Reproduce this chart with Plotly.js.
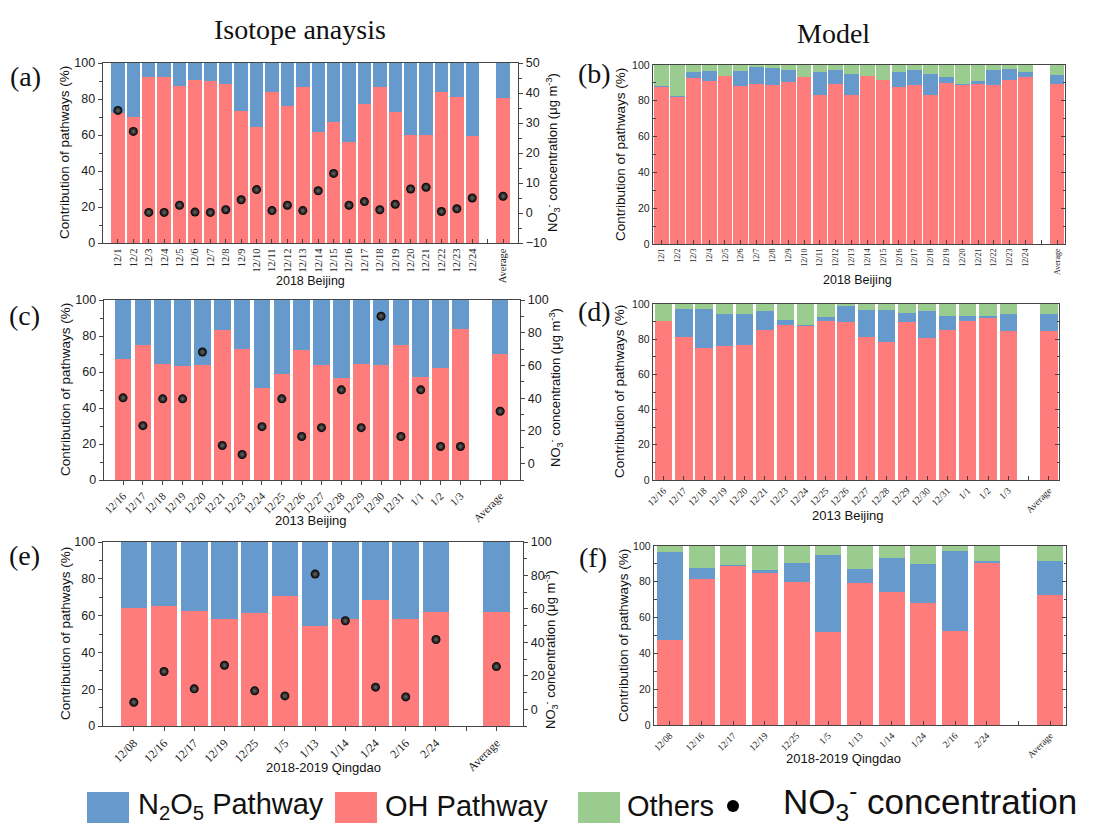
<!DOCTYPE html>
<html><head><meta charset="utf-8">
<script src="https://cdn.plot.ly/plotly-3.0.1.min.js"></script>
<style>html,body{margin:0;padding:0;background:#fff}#chart{width:1094px;height:825px}</style>
</head><body><div id="chart"></div>
<script>
// ---------- (a) Isotope analysis, 2018 Beijing ----------
const labelsA = ['12/1','12/2','12/3','12/4','12/5','12/6','12/7','12/8','12/9','12/10','12/11','12/12','12/13','12/14','12/15','12/16','12/17','12/18','12/19','12/20','12/21','12/22','12/23','12/24',' ','Average'];
const ohA   = [72,70,92.5,92,87,90.4,90.2,88.3,73.2,64.2,84,76.2,86.5,61.8,67.5,56.2,77,86.5,72.7,59.8,59.8,84,81.2,59.6,null,80.4];
const n2o5A = [28,30,7.5,8,13,9.6,9.8,11.7,26.8,35.8,16,23.8,13.5,38.2,32.5,43.8,23,13.5,27.3,40.2,40.2,16,18.8,40.4,null,19.6];
const no3A  = [34.2,27.2,0.2,0.2,2.6,0.3,0.2,1.1,4.4,7.8,0.8,2.6,0.8,7.4,13.2,2.6,3.8,1.1,2.9,8,8.6,0.5,1.4,5,null,5.6];

// ---------- (b) Model, 2018 Beijing ----------
const labelsB = labelsA;
const ohB     = [87.9,82.0,93.0,91.0,93.7,88.3,89.4,88.8,90.5,93.1,83.3,89.4,83.3,94.0,91.4,87.9,88.8,83.3,90.1,89.0,89.6,88.7,91.8,93.5,null,89.4];
const n2o5B   = [0.4,0.7,3.3,5.7,0.3,8.4,9.3,9.5,6.7,0.2,13.0,7.8,11.7,0.0,0.2,8.0,8.2,11.9,3.2,0.6,1.4,8.7,6.2,2.8,null,5.2];
const othersB = [11.7,17.3,3.7,3.3,6.0,3.3,1.3,1.7,2.8,6.7,3.7,2.8,5.0,6.0,8.4,4.1,3.0,4.8,6.7,10.4,9.0,2.6,2.0,3.7,null,5.4];

// ---------- (c) Isotope analysis, 2013 Beijing ----------
const labelsC = ['12/16','12/17','12/18','12/19','12/20','12/21','12/23','12/24','12/25','12/26','12/27','12/28','12/29','12/30','12/31','1/1','1/2','1/3',' ','Average'];
const ohC   = [67.2,75,64.3,63.3,63.7,83.1,72.8,51.3,58.9,72.2,63.7,56.4,64.6,63.9,75,57.5,62.5,83.9,null,69.8];
const n2o5C = [32.8,25,35.7,36.7,36.3,16.9,27.2,48.7,41.1,27.8,36.3,43.6,35.4,36.1,25,42.5,37.5,16.1,null,30.2];
const no3C  = [40.2,23.2,39.6,39.6,68.2,11.1,5.6,22.6,39.6,16.6,22,45.1,22,90.1,16.6,45.1,10.5,10.5,null,32];

// ---------- (d) Model, 2013 Beijing ----------
const labelsD = labelsC;
const ohD     = [90.5,81.2,75.0,75.9,76.5,85.4,87.9,87.3,90.5,89.6,81.0,78.2,89.6,80.6,85.4,90.5,92.0,84.4,null,84.4];
const n2o5D   = [0.0,16.0,22.2,18.6,17.8,10.4,2.8,0.9,1.9,9.1,15.8,18.6,5.3,15.2,8.0,2.9,1.4,9.9,null,9.9];
const othersD = [9.5,2.8,2.8,5.5,5.7,4.2,9.3,11.8,7.6,1.3,3.2,3.2,5.1,4.2,6.6,6.6,6.6,5.7,null,5.7];

// ---------- (e) Isotope analysis, 2018-2019 Qingdao ----------
const labelsE = ['12/08','12/16','12/17','12/19','12/25','1/5','1/13','1/14','1/24','2/16','2/24',' ','Average'];
const ohE   = [64.4,65,62.6,57.9,61.5,70.8,54.5,58.3,68.6,57.9,61.8,null,62];
const n2o5E = [35.6,35,37.4,42.1,38.5,29.2,45.5,41.7,31.4,42.1,38.2,null,38];
const no3E  = [4.2,22.6,12.2,26.3,11,8,80.8,52.9,13.2,7.4,41.7,null,25.5];

// ---------- (f) Model, 2018-2019 Qingdao ----------
const labelsF = labelsE;
const ohF     = [47.4,81.8,88.7,84.9,79.9,52.0,79.4,74.3,68.4,52.6,90.7,null,72.9];
const n2o5F   = [49.3,5.9,0.9,1.5,10.6,43.2,8.0,19.2,21.4,44.4,0.9,null,18.5];
const othersF = [3.3,12.3,10.4,13.6,9.5,4.8,12.6,6.5,10.2,3.0,8.4,null,8.6];

// ---------- styling ----------
const W = 1094, H = 825;
const px = x => x / W, py = y => 1 - y / H;
const BLUE = '#6699CC', RED = '#FF7C7C', GREEN = '#9BCC8F';
const AX = '#444';
const SANS = 'Liberation Sans, Arial, sans-serif';
const SERIF = 'Liberation Serif, Times New Roman, serif';

const traces = [];
function idx(labels){ return labels.map((_, i) => i); }
function bars(xa, ya, labels, oh, n2o5, others, w){
  const x = idx(labels);
  traces.push({type:'bar', x, y:oh, xaxis:xa, yaxis:ya, width:w, marker:{color:RED, line:{width:0}}, name:'OH Pathway', showlegend:false, hoverinfo:'y'});
  traces.push({type:'bar', x, y:n2o5, xaxis:xa, yaxis:ya, width:w, marker:{color:BLUE, line:{width:0}}, name:'N2O5 Pathway', showlegend:false, hoverinfo:'y'});
  if (others) traces.push({type:'bar', x, y:others, xaxis:xa, yaxis:ya, width:w, marker:{color:GREEN, line:{width:0}}, name:'Others', showlegend:false, hoverinfo:'y'});
}
function dots(xa, ya, labels, vals){
  traces.push({type:'scatter', mode:'markers', x:idx(labels), y:vals, xaxis:xa, yaxis:ya,
    marker:{size:9, color:'#000', gradient:{type:'radial', color:'#6a6a6a'}, line:{width:0}},
    name:'NO3- concentration', showlegend:false, hoverinfo:'y', cliponaxis:false});
}

bars('x','y',labelsA,ohA,n2o5A,null,0.87);   dots('x','y7',labelsA,no3A);
bars('x2','y2',labelsB,ohB,n2o5B,othersB,0.93);
bars('x3','y3',labelsC,ohC,n2o5C,null,0.84); dots('x3','y8',labelsC,no3C);
bars('x4','y4',labelsD,ohD,n2o5D,othersD,0.86);
bars('x5','y5',labelsE,ohE,n2o5E,null,0.88); dots('x5','y9',labelsE,no3E);
bars('x6','y6',labelsF,ohF,n2o5F,othersF,0.82);

function xax(x0, x1, labels, range, angle, size, ticks, anchor){
  return {domain:[px(x0), px(x1)], range, anchor, tickmode:'array', tickvals:idx(labels), ticktext:labels,
    tickangle:angle, tickfont:{family:SERIF, size, color:'#222'}, ticks, ticklen:4, tickcolor:AX, tickwidth:1,
    showline:true, linecolor:AX, linewidth:1.3, mirror:true, showgrid:false, zeroline:false, automargin:false, fixedrange:true};
}
function yax(y0, y1, anchor, ticks, size, mirror){
  return {domain:[py(y1), py(y0)], range:[0,100], anchor, dtick:20, tick0:0, ticks, ticklen:4, tickcolor:AX, tickwidth:1,
    minor:{ticks, dtick:10, ticklen:2.5, tickcolor:AX},
    tickfont:{family:SANS, size, color:'#222'}, showline:true, linecolor:AX, linewidth:1.3, mirror,
    showgrid:false, zeroline:false, automargin:false, fixedrange:true};
}
function yright(over, anchor, range, dtick, mdtick){
  return {overlaying:over, side:'right', anchor, range, dtick, tick0:0, ticks:'outside', ticklen:4, tickcolor:AX, tickwidth:1,
    minor:{ticks:'outside', dtick:mdtick, ticklen:2.5, tickcolor:AX},
    tickfont:{family:SANS, size:12.5, color:'#222'}, showline:true, linecolor:AX, linewidth:1.3,
    showgrid:false, zeroline:false, automargin:false, fixedrange:true};
}

const layout = {
  width:W, height:H, margin:{l:0,r:0,t:0,b:0}, paper_bgcolor:'#fff', plot_bgcolor:'#fff',
  barmode:'stack', showlegend:false, font:{family:SANS, color:'#222'},
  xaxis:  xax(103, 518, labelsA, [-0.97, 25.97], -90, 10.5, 'inside', 'y'),
  yaxis:  yax(63, 243, 'x', 'outside', 12.5, false),
  yaxis7: yright('y', 'x', [-10, 50], 10, 5),
  xaxis2: xax(653, 1065, labelsB, [-0.55, 25.5], -90, 8, 'inside', 'y2'),
  yaxis2: yax(65, 244, 'x2', 'inside', 10.5, 'ticks'),
  xaxis3: xax(104, 520, labelsC, [-0.96, 20], -45, 11, 'outside', 'y3'),
  yaxis3: yax(300, 480, 'x3', 'outside', 12.5, false),
  yaxis8: yright('y3', 'x3', [-10, 100], 20, 10),
  xaxis4: xax(653, 1059, labelsD, [-0.52, 19.5], -45, 9.5, 'inside', 'y4'),
  yaxis4: yax(304, 480, 'x4', 'inside', 10.5, 'ticks'),
  xaxis5: xax(103, 523, labelsE, [-1.02, 12.88], -45, 12, 'outside', 'y5'),
  yaxis5: yax(542, 726, 'x5', 'outside', 12.5, false),
  yaxis9: yright('y5', 'x5', [-10, 100], 20, 10),
  xaxis6: xax(654, 1066, labelsF, [-0.5, 12.5], -45, 9.5, 'inside', 'y6'),
  yaxis6: yax(546, 725, 'x6', 'inside', 10.5, 'ticks'),
  annotations: [], shapes: []
};

function ann(text, x, y, size, family, angle, extra){
  layout.annotations.push(Object.assign({text, x:px(x), y:py(y), xref:'paper', yref:'paper', showarrow:false,
    xanchor:'center', yanchor:'middle', textangle:angle||0, font:{family, size, color:'#111'}}, extra||{}));
}
// headers
ann('Isotope anaysis', 300, 29, 28, SERIF);
ann('Model', 833, 33, 28, SERIF);
// panel letters
ann('(a)', 25, 76, 28, SERIF); ann('(b)', 594, 73, 28, SERIF);
ann('(c)', 24, 315, 28, SERIF); ann('(d)', 594, 311, 28, SERIF);
ann('(e)', 24, 555, 28, SERIF); ann('(f)', 593, 557, 28, SERIF);
// y titles
const yt = 'Contribution of pathways (%)';
ann(yt, 65, 153, 13.5, SANS, -90); ann(yt, 620, 155, 13.5, SANS, -90);
ann(yt, 66, 390, 13.5, SANS, -90); ann(yt, 620, 392, 13.5, SANS, -90);
ann(yt, 65, 634, 13.5, SANS, -90); ann(yt, 623, 636, 13.5, SANS, -90);
const rt = 'NO<sub>3</sub><sup>-</sup> concentration (μg m<sup>-3</sup>)';
ann(rt, 553, 153, 13, SANS, -90); ann(rt, 556, 388, 13, SANS, -90); ann(rt, 551, 650, 13, SANS, -90);
// x titles
ann('2018 Beijing', 310, 281, 12.5, SANS); ann('2018 Beijing', 857, 280, 12.5, SANS);
ann('2013 Beijing', 311, 520, 13, SANS); ann('2013 Beijing', 848, 515, 13, SANS);
ann('2018-2019 Qingdao', 323, 767, 13, SANS); ann('2018-2019 Qingdao', 843, 758, 13, SANS);

// legend
function box(x0, x1, color){
  layout.shapes.push({type:'rect', xref:'paper', yref:'paper', x0:px(x0), x1:px(x1), y0:py(823), y1:py(792), fillcolor:color, line:{width:0}});
}
box(87, 129, BLUE); box(335, 377, RED); box(578, 620, GREEN);
ann('N<sub>2</sub>O<sub>5</sub> Pathway', 136, 806, 29, SANS, 0, {xanchor:'left'});
ann('OH Pathway', 383, 806, 29, SANS, 0, {xanchor:'left'});
ann('Others', 625, 806, 29, SANS, 0, {xanchor:'left'});
ann('NO<sub>3</sub><sup>-</sup> concentration', 781, 801, 35, SANS, 0, {xanchor:'left'});
layout.shapes.push({type:'circle', xref:'paper', yref:'paper', x0:px(727), x1:px(739), y0:py(812), y1:py(800), fillcolor:'#000', line:{width:0}});

Plotly.newPlot('chart', traces, layout, {staticPlot:true, displayModeBar:false});
</script></body></html>
